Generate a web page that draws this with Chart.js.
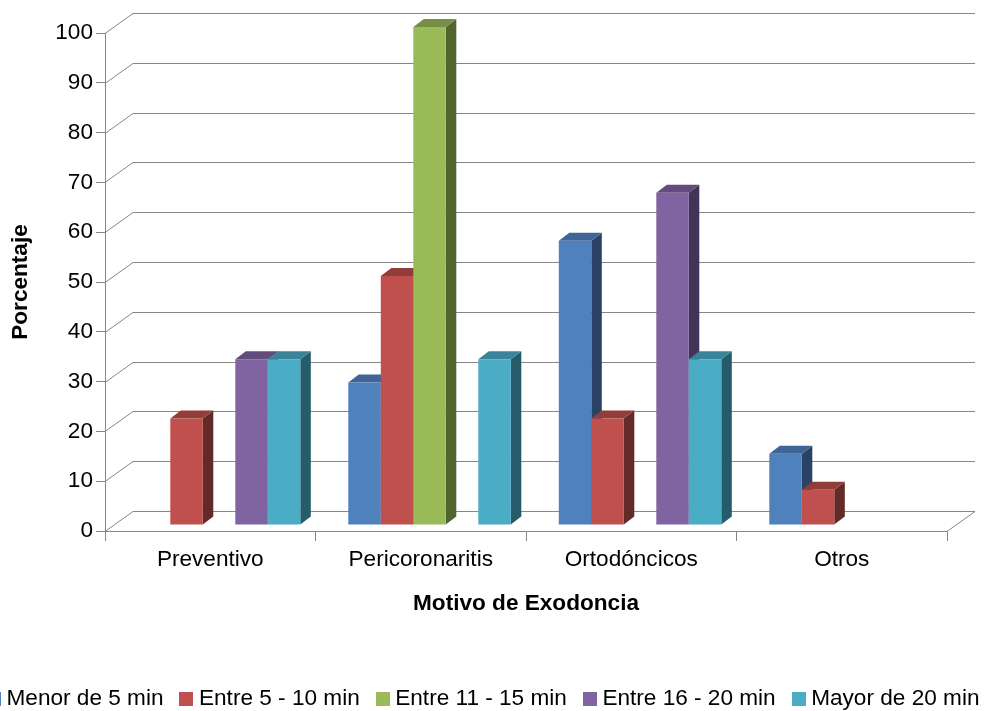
<!DOCTYPE html>
<html>
<head>
<meta charset="utf-8">
<title>Motivo de Exodoncia</title>
<script src="https://cdn.jsdelivr.net/npm/chart.js@4"></script>
<style>
  html, body { margin: 0; padding: 0; background: #fff; overflow: hidden; width: 985px; height: 711px; }
  #wrap { position: relative; width: 985px; height: 711px; overflow: hidden; }
  #chart { display: block; }
  #legend {
    position: absolute; left: -13px; top: 684px; display: flex; white-space: nowrap;
    font: 22.6px "Liberation Sans", Arial, sans-serif; line-height: 27px; color: #000;
  }
  #legend .item { display: flex; align-items: center; margin-right: 16px; }
  #legend .box { width: 14px; height: 14px; margin-right: 5.5px; position: relative; top: 1px; }
</style>
</head>
<body>
<div id="wrap">
  <canvas id="chart" width="985" height="711"></canvas>
  <div id="legend"></div>
</div>
<script>
// ---------- Data ----------
const categories = ["Preventivo", "Pericoronaritis", "Ortodóncicos", "Otros"];
const seriesNames = ["Menor de 5 min", "Entre 5 - 10 min", "Entre 11 - 15 min", "Entre 16 - 20 min", "Mayor de 20 min"];
const menor5 = [0, 28.6, 57.1, 14.3];
const entre5 = [21.4, 50, 21.4, 7.1];
const entre11 = [0, 100, 0, 0];
const entre16 = [33.3, 0, 66.7, 0];
const mayor20 = [33.3, 33.3, 33.3, 0];
const seriesValues = [menor5, entre5, entre11, entre16, mayor20];

// front, side and top face of each series
const frontColors = ["#4F81BD", "#C0504D", "#9BBB59", "#8064A2", "#4BACC6"];
const sideColors = ["#2A4365", "#632A28", "#53652F", "#433356", "#265B69"];
const topColors = ["#3E6595", "#933D3A", "#768F44", "#614C7C", "#3A849A"];

const FONT = "'Liberation Sans', Arial, sans-serif";
const FONT_SIZE = 22.6;
const GRID = "#868686";

// ---------- Fake 3D ----------
const wallX = 28, wallY = 20;   // depth of the back wall
const shiftX = 8.8, shiftY = 6; // bars stand a bit inside the floor
const barX = 10.5, barY = 8;    // depth of a bar

function poly(ctx, color, pts) {
  ctx.fillStyle = color;
  ctx.beginPath();
  pts.forEach((p, i) => (i ? ctx.lineTo(p[0], p[1]) : ctx.moveTo(p[0], p[1])));
  ctx.closePath();
  ctx.fill();
}

const wallPlugin = {
  id: "wall",
  beforeDatasetsDraw(chart) {
    const ctx = chart.ctx;
    const { left, right } = chart.chartArea;
    const y = chart.scales.y;
    ctx.save();
    ctx.strokeStyle = GRID;
    ctx.lineWidth = 1;
    y.ticks.forEach((t) => {
      const py = Math.round(y.getPixelForValue(t.value)) + 0.5;
      ctx.beginPath();
      ctx.moveTo(left, py);
      ctx.lineTo(left + wallX, py - wallY);
      ctx.lineTo(right + wallX, py - wallY);
      ctx.stroke();
    });
    // right end of the floor
    const py0 = Math.round(y.getPixelForValue(0)) + 0.5;
    ctx.beginPath();
    ctx.moveTo(right, py0);
    ctx.lineTo(right + wallX, py0 - wallY);
    ctx.stroke();
    ctx.restore();
  },
  // stop the normal draw, the bars go out left to right in afterDatasetsDraw
  beforeDatasetDraw() {
    return false;
  },
  afterDatasetsDraw(chart) {
    const ctx = chart.ctx;
    ctx.save();
    ctx.translate(shiftX, -shiftY);
    chart.data.datasets.forEach((ds, i) => {
      chart.getDatasetMeta(i).data.forEach((bar, j) => {
        if (!ds.data[j]) return;
        const r = bar.x + bar.width / 2;
        const l = bar.x - bar.width / 2;
        poly(ctx, sideColors[i], [[r, bar.y], [r + barX, bar.y - barY], [r + barX, bar.base - barY], [r, bar.base]]);
        poly(ctx, topColors[i], [[l, bar.y], [l + barX, bar.y - barY], [r + barX, bar.y - barY], [r, bar.y]]);
        bar.draw(ctx);
      });
    });
    ctx.restore();
  },
};

// ---------- Chart ----------
new Chart(document.getElementById("chart"), {
  type: "bar",
  data: {
    labels: categories,
    datasets: seriesNames.map((name, i) => ({
      label: name,
      data: seriesValues[i],
      backgroundColor: frontColors[i],
      borderWidth: 0,
      inflateAmount: 0,
      clip: false,
    })),
  },
  options: {
    responsive: false,
    animation: false,
    categoryPercentage: 0.772,
    barPercentage: 1,
    layout: { padding: { top: 33, right: 38, left: 0, bottom: 0 } },
    plugins: { legend: { display: false }, tooltip: { enabled: false } },
    scales: {
      x: {
        afterFit: (s) => { s.height = 180; },
        grid: { offset: true, drawOnChartArea: false, tickLength: 10, color: GRID },
        border: { color: GRID },
        ticks: { color: "#000", padding: 5, maxRotation: 0, autoSkip: false, font: { family: FONT, size: FONT_SIZE } },
        title: {
          display: true, text: "Motivo de Exodoncia", color: "#000",
          font: { family: FONT, size: FONT_SIZE, weight: "bold" },
          padding: { top: 0, bottom: 94 },
        },
      },
      y: {
        min: 0,
        max: 100,
        afterFit: (s) => { s.width = 105; },
        grid: { drawOnChartArea: false, tickLength: 9, color: GRID },
        border: { color: GRID },
        ticks: { stepSize: 10, color: "#000", padding: 3, font: { family: FONT, size: FONT_SIZE } },
        title: {
          display: true, text: "Porcentaje", color: "#000",
          font: { family: FONT, size: FONT_SIZE, weight: "bold" },
          padding: { top: 7, bottom: 0 },
        },
      },
    },
  },
  plugins: [wallPlugin],
});

// ---------- Legend ----------
const legendEl = document.getElementById("legend");
seriesNames.forEach((name, i) => {
  const item = document.createElement("div");
  item.className = "item";
  const box = document.createElement("span");
  box.className = "box";
  box.style.background = frontColors[i];
  const txt = document.createElement("span");
  txt.textContent = name;
  item.appendChild(box);
  item.appendChild(txt);
  legendEl.appendChild(item);
});
</script>
</body>
</html>
